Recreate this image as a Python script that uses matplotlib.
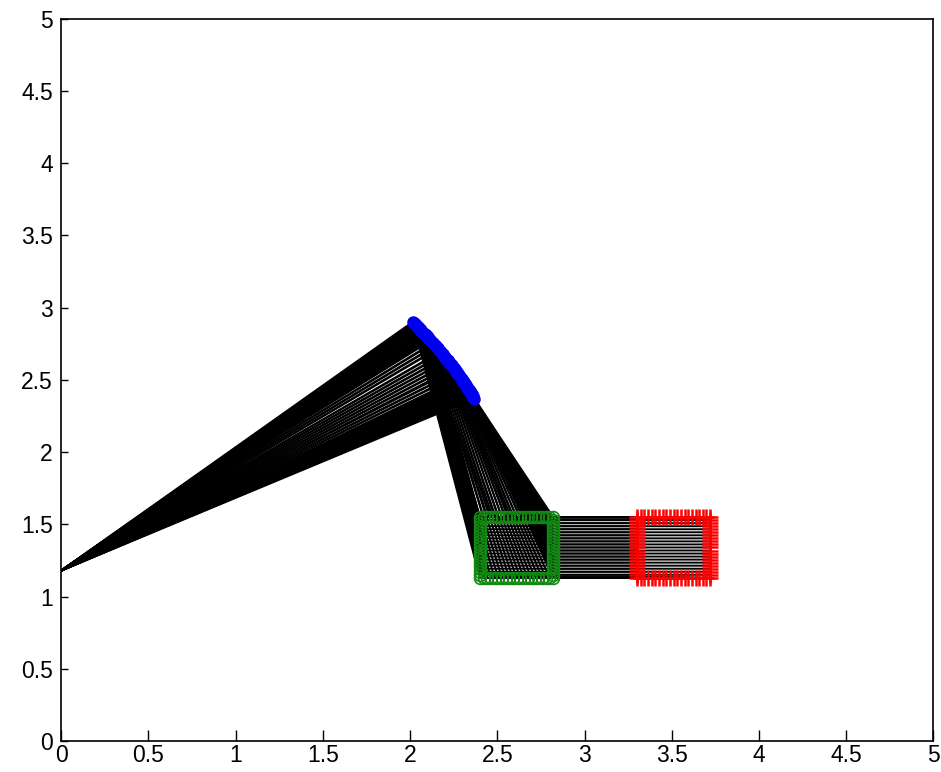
import numpy as np
import matplotlib
matplotlib.use('Agg')
import matplotlib.pyplot as plt

# base joint of the arm
base_x = 0.0
base_y = 1.18
link1 = 2.65   # length base -> elbow

# end effector path (red rectangle): top, right side, bottom, left side
end_x = [3.300, 3.321, 3.342, 3.363, 3.384, 3.405, 3.426, 3.447, 3.468, 3.489,
         3.510, 3.531, 3.552, 3.573, 3.594, 3.615, 3.636, 3.657, 3.678, 3.699,
         3.720, 3.720, 3.720, 3.720, 3.720, 3.720, 3.720, 3.720, 3.720, 3.720,
         3.720, 3.720, 3.720, 3.720, 3.720, 3.720, 3.720, 3.720, 3.720, 3.720,
         3.720, 3.699, 3.678, 3.657, 3.636, 3.615, 3.594, 3.573, 3.552, 3.531,
         3.510, 3.489, 3.468, 3.447, 3.426, 3.405, 3.384, 3.363, 3.342, 3.321,
         3.300, 3.300, 3.300, 3.300, 3.300, 3.300, 3.300, 3.300, 3.300, 3.300,
         3.300, 3.300, 3.300, 3.300, 3.300, 3.300, 3.300, 3.300, 3.300, 3.300]
end_y = [1.550, 1.550, 1.550, 1.550, 1.550, 1.550, 1.550, 1.550, 1.550, 1.550,
         1.550, 1.550, 1.550, 1.550, 1.550, 1.550, 1.550, 1.550, 1.550, 1.550,
         1.550, 1.529, 1.508, 1.487, 1.466, 1.445, 1.424, 1.403, 1.382, 1.361,
         1.340, 1.319, 1.298, 1.277, 1.256, 1.235, 1.214, 1.193, 1.172, 1.151,
         1.130, 1.130, 1.130, 1.130, 1.130, 1.130, 1.130, 1.130, 1.130, 1.130,
         1.130, 1.130, 1.130, 1.130, 1.130, 1.130, 1.130, 1.130, 1.130, 1.130,
         1.130, 1.151, 1.172, 1.193, 1.214, 1.235, 1.256, 1.277, 1.298, 1.319,
         1.340, 1.361, 1.382, 1.403, 1.424, 1.445, 1.466, 1.487, 1.508, 1.529]

# wrist (green) sits 0.9 to the left of the end effector, same height
wrist_x = [2.400, 2.421, 2.442, 2.463, 2.484, 2.505, 2.526, 2.547, 2.568, 2.589,
           2.610, 2.631, 2.652, 2.673, 2.694, 2.715, 2.736, 2.757, 2.778, 2.799,
           2.820, 2.820, 2.820, 2.820, 2.820, 2.820, 2.820, 2.820, 2.820, 2.820,
           2.820, 2.820, 2.820, 2.820, 2.820, 2.820, 2.820, 2.820, 2.820, 2.820,
           2.820, 2.799, 2.778, 2.757, 2.736, 2.715, 2.694, 2.673, 2.652, 2.631,
           2.610, 2.589, 2.568, 2.547, 2.526, 2.505, 2.484, 2.463, 2.442, 2.421,
           2.400, 2.400, 2.400, 2.400, 2.400, 2.400, 2.400, 2.400, 2.400, 2.400,
           2.400, 2.400, 2.400, 2.400, 2.400, 2.400, 2.400, 2.400, 2.400, 2.400]
wrist_y = end_y

# first joint angle (deg) per frame -> elbow (blue)
theta1 = [37.0, 36.5, 36.0, 35.5, 34.9, 34.4, 33.9, 33.4, 32.9, 32.4,
          31.9, 31.3, 30.8, 30.3, 29.8, 29.3, 28.8, 28.2, 27.7, 27.2,
          26.7, 26.9, 27.1, 27.2, 27.4, 27.6, 27.8, 27.9, 28.1, 28.3,
          28.5, 28.6, 28.8, 29.0, 29.2, 29.3, 29.5, 29.7, 29.9, 30.0,
          30.2, 30.7, 31.2, 31.7, 32.3, 32.8, 33.3, 33.8, 34.3, 34.8,
          35.4, 35.9, 36.4, 36.9, 37.4, 37.9, 38.4, 39.0, 39.5, 40.0,
          40.5, 40.3, 40.2, 40.0, 39.8, 39.6, 39.5, 39.3, 39.1, 38.9,
          38.8, 38.6, 38.4, 38.2, 38.1, 37.9, 37.7, 37.5, 37.4, 37.2]

th = np.radians(theta1)
elbow_x = base_x + link1 * np.cos(th)
elbow_y = base_y + link1 * np.sin(th)

plt.rcParams['font.family'] = ['Liberation Sans', 'DejaVu Sans']
fig = plt.figure(figsize=(9.41, 7.72), dpi=100)
ax = fig.add_axes([0.065, 0.040, 0.927, 0.936])

for i in range(len(theta1)):
    ax.plot([base_x, elbow_x[i], wrist_x[i], end_x[i]],
            [base_y, elbow_y[i], wrist_y[i], end_y[i]],
            color='black', lw=1.4, zorder=1)

ax.plot(elbow_x, elbow_y, 'o', color='#0000ee', mfc='none', ms=7, mew=2, zorder=3)
ax.plot(wrist_x, wrist_y, 'o', color='#118811', mfc='none', ms=8.5, mew=1.2, zorder=3)
ax.plot(end_x, end_y, '+', color='#ff0000', ms=11, mew=1.8, zorder=3)

ax.set_xlim(0, 5)
ax.set_ylim(0, 5)
ticks = np.arange(0, 5.01, 0.5)
tick_labels = ['0', '0.5', '1', '1.5', '2', '2.5', '3', '3.5', '4', '4.5', '5']
ax.set_xticks(ticks)
ax.set_yticks(ticks)
ax.set_xticklabels(tick_labels)
ax.set_yticklabels(tick_labels)
ax.tick_params(axis='x', direction='in', length=8, width=1, labelsize=16.5, pad=2)
ax.tick_params(axis='y', direction='in', length=5, width=1, labelsize=16.5, pad=6)
for s in ax.spines.values():
    s.set_linewidth(1.2)

fig.savefig('out.png', dpi=100)
